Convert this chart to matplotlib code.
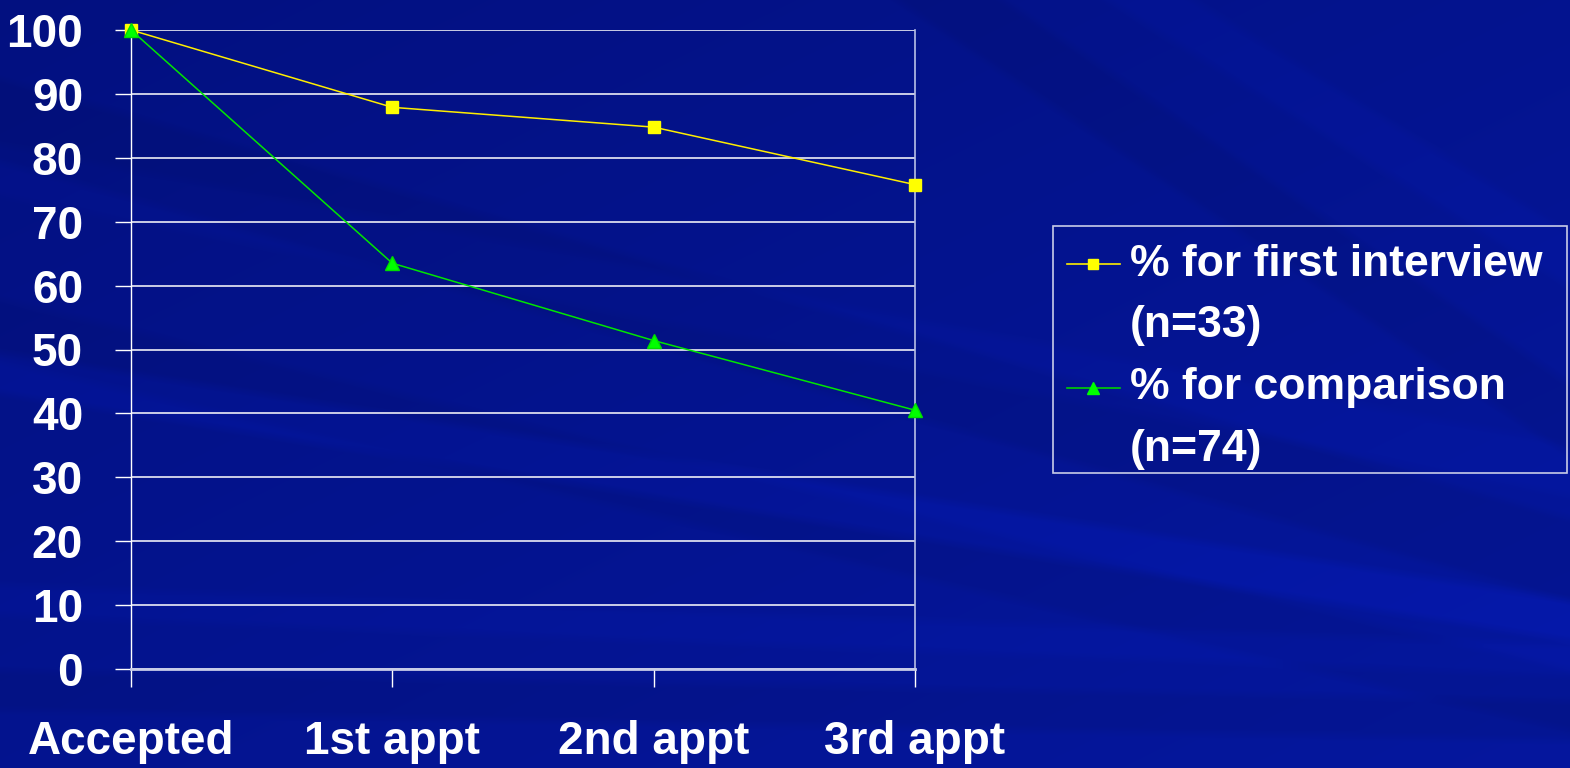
import numpy as np
import matplotlib
matplotlib.use("Agg")
import matplotlib.pyplot as plt
from matplotlib.patches import Rectangle
from matplotlib.lines import Line2D

# Data
stages = ["Accepted", "1st appt", "2nd appt", "3rd appt"]
first_interview = [100, 87.9, 84.8, 75.8]   # % for first interview (n=33)
comparison = [100, 63.5, 51.4, 40.5]        # % for comparison (n=74)
series_labels = [["% for first interview", "(n=33)"],
                 ["% for comparison", "(n=74)"]]
y_ticks = list(range(0, 101, 10))

W, H = 1570, 768
FONT = "Liberation Sans"
FS = 33
LEGEND_FS = 32

plt.rcParams["font.family"] = [FONT, "DejaVu Sans"]
plt.rcParams["font.weight"] = "bold"

fig = plt.figure(figsize=(W / 100, H / 100), dpi=100)

# Slide-style background: deep blue gradient with soft diagonal streaks
yy, xx = np.mgrid[0:H, 0:W].astype(float)
base = np.array([0.005, 0.05, 0.44])
light = np.array([0.02, 0.09, 0.62])
t = np.clip(0.5 * xx / W + 0.5 * yy / H, 0, 1)
t = 0.35 + 0.65 * t
img = base[None, None, :] * (1 - t[..., None]) + light[None, None, :] * t[..., None]

def band(x0, y0, x1, y1, width, strength, soft=10.0):
    dx, dy = x1 - x0, y1 - y0
    n = np.hypot(dx, dy)
    d = np.abs((xx - x0) * dy - (yy - y0) * dx) / n
    m = np.clip((width / 2 - d) / soft + 0.5, 0, 1)
    return m * strength

shade = np.zeros((H, W))
shade += band(0, 120, 1570, 560, 80, -0.06)
shade += band(0, 330, 1570, 700, 60, -0.05)
shade += band(300, 420, 1570, 620, 40, 0.09)
shade += band(0, 170, 1570, 470, 50, 0.04)
shade += band(950, 0, 1570, 420, 60, -0.06)
shade += band(1150, 0, 1570, 260, 45, 0.05)
shade += band(0, 600, 1570, 660, 30, 0.05)
shade += band(0, 690, 1570, 720, 40, -0.06)
img = np.clip(img * (1 + shade[..., None]), 0, 1)

bg = fig.add_axes([0, 0, 1, 1])
bg.imshow(img, aspect="auto", extent=[0, W, H, 0], interpolation="bilinear")
bg.set_xlim(0, W)
bg.set_ylim(H, 0)
bg.axis("off")

# Plot area
left, right, top, bottom = 131, 915, 30, 669
ax = fig.add_axes([left / W, 1 - bottom / H, (right - left) / W, (bottom - top) / H])
ax.patch.set_alpha(0)
x = np.arange(len(stages))

ax.set_xlim(0, 3)
ax.set_ylim(0, 100)
ax.set_yticks(y_ticks)
ax.set_xticks(x)
ax.set_xticklabels(stages)
ax.yaxis.grid(True, color="white", lw=1.3, alpha=0.85)
ax.set_axisbelow(True)

ax.spines["top"].set_visible(False)
ax.spines["left"].set_color("white")
ax.spines["left"].set_linewidth(1.0)
ax.spines["right"].set_color("#b8bfe6")
ax.spines["right"].set_linewidth(1.2)
ax.spines["bottom"].set_color("#c8cce8")
ax.spines["bottom"].set_linewidth(2.0)

ax.tick_params(axis="y", direction="out", length=11.5, width=1, color="white",
               pad=23, labelsize=FS, labelcolor="white")
ax.tick_params(axis="x", direction="out", length=13, width=1, color="white",
               pad=24, labelsize=FS, labelcolor="white")
for lab in ax.get_xticklabels() + ax.get_yticklabels():
    lab.set_fontweight("bold")

ax.plot(x, first_interview, color="#ffee00", lw=1.1, marker="s", ms=8,
        mfc="#ffff00", mec="#ffff00", clip_on=False, zorder=4)
ax.plot(x, comparison, color="#00e600", lw=1.1, marker="^", ms=9.5,
        mfc="#00ff00", mec="#00dd00", clip_on=False, zorder=5)

# Legend box drawn in pixel coordinates of the background axes
bg.add_patch(Rectangle((1053, 226), 1567 - 1053, 473 - 226, fill=False,
                       ec="#c8cce8", lw=1.2, zorder=3))
line_y = [264, 326, 388, 449]
for i, (lines, col, mk, ms, mfc) in enumerate([
        (series_labels[0], "#ffee00", "s", 7, "#ffff00"),
        (series_labels[1], "#00d000", "^", 9, "#00ff00")]):
    yl = line_y[2 * i]
    bg.add_line(Line2D([1067, 1120], [yl, yl], color=col, lw=1.2, zorder=4))
    bg.add_line(Line2D([1093], [yl], marker=mk, ms=ms, mfc=mfc, mec=mfc,
                       lw=0, zorder=5))
    for j, txt in enumerate(lines):
        bg.text(1130, line_y[2 * i + j], txt, color="white", fontsize=LEGEND_FS,
                fontweight="bold", va="center", ha="left", zorder=5)

fig.savefig("out.png", dpi=100)
